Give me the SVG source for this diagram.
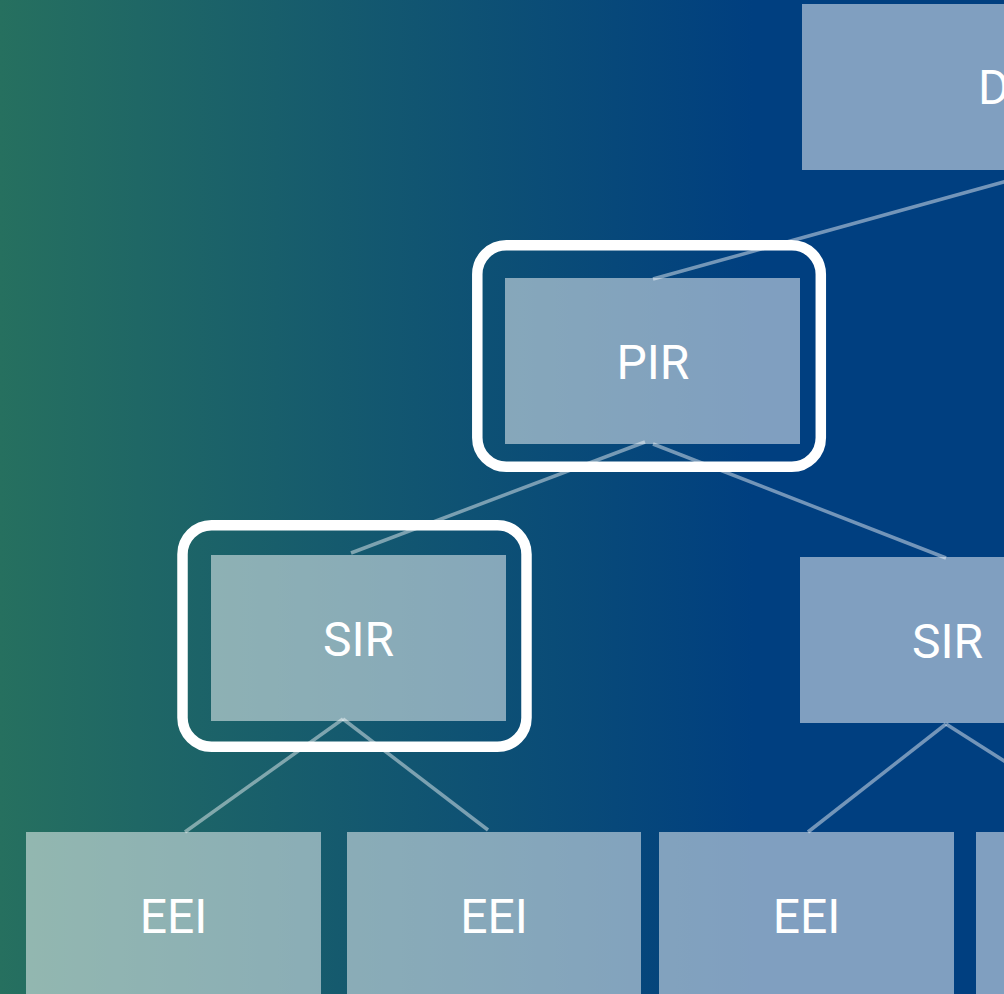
<svg xmlns="http://www.w3.org/2000/svg" width="1004" height="994" viewBox="0 0 1004 994">
  <defs>
    <linearGradient id="bg" x1="0" y1="0" x2="1004" y2="0" gradientUnits="userSpaceOnUse">
      <stop offset="0" stop-color="#26705F"/>
      <stop offset="0.75" stop-color="#003F80"/>
      <stop offset="1" stop-color="#003F80"/>
    </linearGradient>
    <style>
      .box { fill: #ffffff; fill-opacity: 0.5; }
      .lbl { font-family: Roboto, "Liberation Sans", sans-serif; font-size: 48px; fill: #ffffff; text-anchor: middle; }
      .conn { stroke: #ffffff; stroke-opacity: 0.45; stroke-width: 3.5; fill: none; }
      .hl { fill: none; stroke: #ffffff; stroke-width: 10.5; }
    </style>
  </defs>
  <rect x="0" y="0" width="1004" height="994" fill="url(#bg)"/>

  <g id="connectors">
    <line class="conn" x1="653" y1="279" x2="1047" y2="170"/>
    <line class="conn" x1="645" y1="442" x2="351" y2="553"/>
    <line class="conn" x1="653" y1="444" x2="946" y2="558"/>
    <line class="conn" x1="343" y1="719" x2="185" y2="832"/>
    <line class="conn" x1="343" y1="719" x2="488" y2="830"/>
    <line class="conn" x1="946" y1="724" x2="808" y2="832"/>
    <line class="conn" x1="946" y1="724" x2="1100" y2="822"/>
  </g>

  <g id="node-d">
    <rect class="box" x="802" y="4" width="490" height="166"/>
    <text class="lbl" x="978" y="104" style="text-anchor:start">D</text>
  </g>

  <g id="node-pir">
    <rect class="hl" x="477.3" y="245.3" width="343.5" height="221.5" rx="29"/>
    <rect class="box" x="505" y="278" width="295" height="166"/>
    <text class="lbl" x="653" y="379">PIR</text>
  </g>

  <g id="node-sir-left">
    <rect class="hl" x="182.5" y="525.3" width="344" height="221.5" rx="29"/>
    <rect class="box" x="211" y="555" width="295" height="166"/>
    <text class="lbl" x="358.5" y="656">SIR</text>
  </g>

  <g id="node-sir-right">
    <rect class="box" x="800" y="557" width="295" height="166"/>
    <text class="lbl" x="947.5" y="658">SIR</text>
  </g>

  <g id="node-eei-1">
    <rect class="box" x="26" y="832" width="295" height="166"/>
    <text class="lbl" x="173.5" y="933">EEI</text>
  </g>
  <g id="node-eei-2">
    <rect class="box" x="347" y="832" width="294" height="166"/>
    <text class="lbl" x="494" y="933">EEI</text>
  </g>
  <g id="node-eei-3">
    <rect class="box" x="659" y="832" width="295" height="166"/>
    <text class="lbl" x="806.5" y="933">EEI</text>
  </g>
  <g id="node-eei-4">
    <rect class="box" x="976" y="832" width="295" height="166"/>
  </g>
</svg>
